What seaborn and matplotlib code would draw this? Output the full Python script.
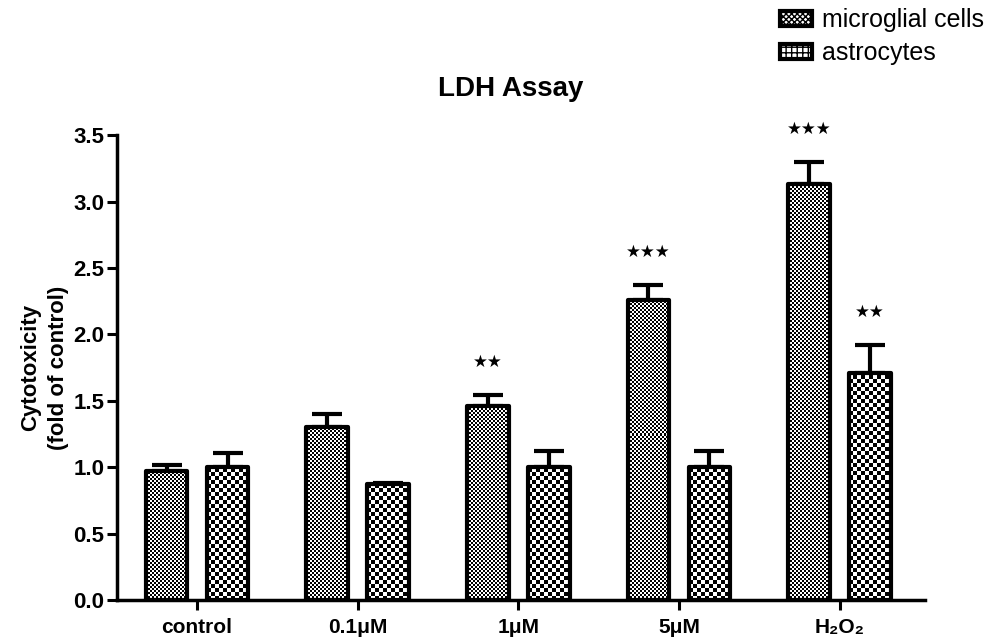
import numpy as np
import pandas as pd
import matplotlib
matplotlib.use("Agg")
import matplotlib.pyplot as plt
from matplotlib.patches import Patch
import seaborn as sns

# values
treatments = ["control", "0.1μM", "1μM", "5μM", "H₂O₂"]
cells = ["microglial cells", "astrocytes"]
microglia_mean = [0.97, 1.30, 1.46, 2.26, 3.13]
microglia_sem = [0.05, 0.10, 0.08, 0.11, 0.17]
astro_mean = [1.00, 0.87, 1.00, 1.00, 1.71]
astro_sem = [0.11, 0.01, 0.12, 0.12, 0.21]
microglia_stars = ["", "", "★★", "★★★", "★★★"]
astro_stars = ["", "", "", "", "★★"]

df = pd.DataFrame({
    "treatment": treatments * 2,
    "cell": [cells[0]] * 5 + [cells[1]] * 5,
    "value": microglia_mean + astro_mean,
})

sns.set_theme(style="ticks")
plt.rcParams["font.family"] = ["Liberation Sans", "DejaVu Sans"]
plt.rcParams["font.weight"] = "bold"

fig = plt.figure(figsize=(9.89, 6.41), dpi=100)
ax = fig.add_axes([0.118, 0.064, 0.817, 0.725])

sns.barplot(data=df, x="treatment", y="value", hue="cell", order=treatments,
            hue_order=cells, width=0.76, gap=0.32, errorbar=None,
            legend=False, ax=ax, edgecolor="black", linewidth=3)

ax.set_xlim(-0.5, 4.53)
ax.set_ylim(0, 3.5)
ax.set_yticks(np.arange(0, 3.51, 0.5))
ax.set_yticklabels([f"{v:.1f}" for v in np.arange(0, 3.51, 0.5)])

# checkerboard fill clipped to each bar
def checker(patch, cell_px):
    x0, y0 = patch.get_x(), patch.get_y()
    w, h = patch.get_width(), patch.get_height()
    p0 = ax.transData.transform((x0, y0))
    p1 = ax.transData.transform((x0 + w, y0 + h))
    nx = int(np.ceil((p1[0] - p0[0]) / cell_px)) + 1
    ny = int(np.ceil((p1[1] - p0[1]) / cell_px)) + 1
    ix, iy = np.indices((ny, nx))
    grid = (ix + iy) % 2
    ux = w / (p1[0] - p0[0])
    uy = h / (p1[1] - p0[1]) if h else 0
    im = ax.imshow(grid, cmap="gray", vmin=0, vmax=1, interpolation="nearest",
                   origin="lower", aspect="auto", zorder=1.5,
                   extent=(x0, x0 + nx * cell_px * ux, y0, y0 + ny * cell_px * uy))
    im.set_clip_path(patch)
    patch.set_facecolor("none")
    patch.set_zorder(2)
    patch.set_joinstyle("round")

bars = ax.patches
n = len(treatments)
for p in bars[:n]:
    checker(p, 2)
for p in bars[n:2 * n]:
    checker(p, 4)

ax.set_xlim(-0.5, 4.53)
ax.set_ylim(0, 3.5)

# upper error bars and significance stars
for group, means, sems, stars in [(bars[:n], microglia_mean, microglia_sem, microglia_stars),
                                  (bars[n:2 * n], astro_mean, astro_sem, astro_stars)]:
    xs = [p.get_x() + p.get_width() / 2 for p in group]
    ax.errorbar(xs, means, yerr=[np.zeros(n), sems], fmt="none", ecolor="black",
                elinewidth=3, capsize=11, capthick=3, zorder=1)
    for x, m, s, st in zip(xs, means, sems, stars):
        if st:
            ax.text(x, m + s + 0.25, st, ha="center", va="center", fontsize=12,
                    color="black", clip_on=False, family=["DejaVu Sans"])

sns.despine(ax=ax)
for sp in ["left", "bottom"]:
    ax.spines[sp].set_linewidth(2.5)
    ax.spines[sp].set_color("black")
ax.tick_params(axis="both", width=2.2, length=7, color="black", labelcolor="black")
ax.tick_params(axis="x", labelsize=15, pad=6)
ax.tick_params(axis="y", labelsize=16, pad=2)
for lab in ax.get_xticklabels() + ax.get_yticklabels():
    lab.set_fontweight("bold")

ax.set_xlabel("")
ax.set_ylabel("Cytotoxicity\n(fold of control)", fontsize=16, fontweight="bold",
              color="black", labelpad=3, linespacing=1.45)
ax.set_title("LDH Assay", fontsize=20, fontweight="bold", color="black", pad=28,
             x=0.487)

handles = [Patch(facecolor="white", edgecolor="black", hatch="xxxxxx", linewidth=3),
           Patch(facecolor="white", edgecolor="black", hatch="+++", linewidth=3)]
leg = fig.legend(handles, cells, loc="upper right", bbox_to_anchor=(1.018, 1.022),
                 frameon=False, fontsize=18, handlelength=1.3, handleheight=0.55,
                 labelspacing=0.35, handletextpad=0.4)
for t in leg.get_texts():
    t.set_fontweight("normal")
    t.set_color("black")

fig.savefig("out.png", dpi=100)
